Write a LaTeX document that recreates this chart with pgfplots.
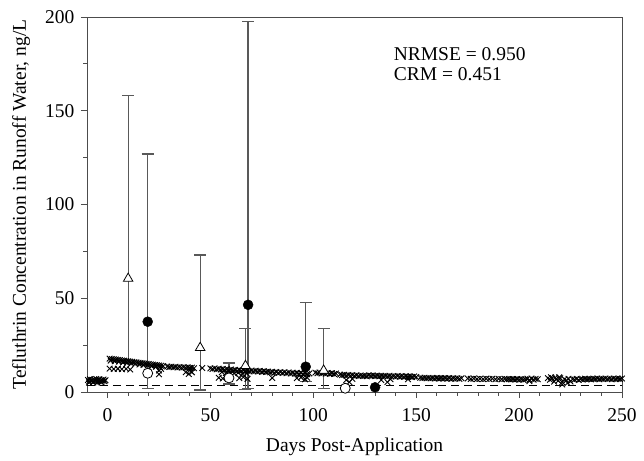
\documentclass[border=0pt]{standalone}
\usepackage{fontspec}
\setmainfont{Liberation Serif}
\usepackage{pgfplots}
\pgfplotsset{compat=1.18}
\usepackage{pgfplotstable}

% observed values: x, y, error plus, error minus
\pgfplotstableread{
x y ep em
10 60.5 97.5 45.0
45 23.6 49.4 22.6
67 14.0 20.0 12.5
105 11.5 22.5 9.5
}\triobs
\pgfplotstableread{
x y ep em
19.5 37.5 89.5 35.5
68.3 46.5 151.0 44.5
96.3 13.5 34.1 8.0
}\fillobs

\begin{document}
\begin{tikzpicture}[font=\fontsize{19.5bp}{22bp}\selectfont]
\begin{axis}[
  scale only axis,
  width=535bp, height=375bp,
  xmin=-10, xmax=250, ymin=0, ymax=200,
  xtick={0,50,...,250}, minor x tick num=4,
  ytick={0,50,...,200}, minor y tick num=1,
  xtick pos=bottom, ytick pos=left,
  tick align=outside,
  major tick length=6bp, minor tick length=3.5bp,
  axis line style={black!70, line width=0.9bp},
  every tick/.style={black!70, line width=0.9bp},
  /pgf/number format/assume math mode=true,
  xlabel={Days Post-Application},
  ylabel={Tefluthrin Concentration in Runoff Water, ng/L},
  xlabel style={at={(axis description cs:0.5,-0.145)}, anchor=center},
  ylabel style={at={(axis description cs:-0.123,0.5)}, anchor=center},
  xticklabel style={yshift=-7bp},
  yticklabel style={xshift=-3bp},
  clip=false,
  error bars/error bar style={black!65, line width=1.3bp},
  error bars/error mark options={rotate=90, mark size=6bp, line width=1.3bp, black!65},
]
% detection limit
\addplot[black, line width=0.9bp, dash pattern=on 8bp off 5bp] coordinates {(-10,3.7) (250,3.7)};

% simulated
\addplot[only marks, mark=x, mark size=4bp, mark options={line width=0.9bp}, black] coordinates {
(-9.5,6.4) (-9,5.6) (-8.5,6.8) (-8,5.9) (-7.5,6.5) (-7,5.4) (-6.5,6.7) (-6,6.0) (-5.5,6.9) (-5,5.7)
(-4.5,6.3) (-4,6.8) (-3.5,5.6) (-3,6.4) (-2.5,6.0) (-2,6.7) (-1.5,5.8) (-1,6.3) (-9,5.0) (-7,5.1) (-5,5.0) (-3,5.2)
(1,17.8) (2,17.6) (3,17.4) (4,17.3) (5,17.1) (6,17.0) (7,16.8) (8,16.7) (9,16.5) (10,16.4)
(11,16.2) (12,16.1) (13,15.9) (14,15.8) (15,15.6) (16,15.5) (17,15.3) (18,15.2) (19,15.0) (20,14.9)
(21,14.7) (22,14.6) (23,14.4) (24,14.3) (25,14.1) (26,14.0) (27,13.8)
(1.5,16.7) (3.5,16.4) (5.5,16.2) (7.5,15.8) (9.5,15.6) (11.5,15.2) (13.5,15.0) (15.5,14.7)
(17.5,14.4) (19.5,14.2) (21.5,13.8) (23.5,13.5) (25.5,13.2)
(1,12.5) (3,12.3) (5,12.4) (7,12.2) (9,12.3) (11,12.0) (25,11.5) (25,9.5) (26,12.3)
(29,13.6) (30,13.3) (31,13.5) (32,13.2) (33,13.4) (34,13.1) (35,13.3) (36,13.0) (37,13.2) (38,12.9)
(39,13.1) (40,12.8) (41,13.0) (42,12.7) (38,10.5) (39.5,9.6) (41,10.5) (40,11.5)
(46,12.8)
(50,12.6) (51,12.3) (52,12.6) (53,12.1) (54,12.4) (55,12.0) (56,12.3) (57,11.8) (58,12.1) (59,11.6)
(60,12.0) (61,11.5) (62,11.8) (63,11.3) (64,11.7) (65,11.2) (66,11.6) (67,11.1) (68,11.4) (69,11.0)
(70,11.4) (71,11.0) (72,11.3) (73,10.9) (74,11.2) (75,10.8) (76,11.1) (77,10.7)
(55.5,10.6) (57.5,10.1) (59.5,10.4) (61.5,9.9) (63.5,10.3) (65.5,9.7) (67.5,10.0)
(54,7.6) (56,7.2) (58,7.8) (64,7.4) (66,7.9) (68,7.0)
(78,10.9) (79,10.5) (80,10.8) (81,10.3) (82,10.7) (83,10.2) (84,10.6) (85,10.1) (86,10.5) (87,10.0)
(88,10.4) (89,9.9) (90,10.3) (91,9.8) (92,10.2) (93,9.7) (94,10.1) (95,9.6) (96,10.0) (97,9.5) (98,9.9)
(80,7.5) (92,7.4) (94,7.8) (96,6.8) (97,7.6)
(101,10.3) (102,10.0) (103,10.4) (104,9.9) (105,10.2) (106,9.8) (107,10.1) (108,9.7) (109,10.0) (110,9.6) (111,9.9)
(113,9.3) (114,9.0) (115,9.2) (116,8.8) (117,9.1) (118,8.7) (119,9.0) (120,8.6) (121,8.9) (122,8.5)
(123,8.8) (124,8.5) (125,8.7) (126,8.4) (116,6.4) (117.5,5.3) (119,7.0)
(127,8.9) (128,8.6) (129,8.8) (130,8.5) (131,8.7) (132,8.4) (133,8.7) (134,8.4) (135,8.6) (136,8.3)
(137,8.6) (138,8.3) (139,8.5) (140,8.2) (141,8.5) (142,8.2) (143,8.4) (144,8.1) (145,8.4) (146,8.1)
(147,8.3) (148,8.0) (149,8.3) (150,8.0) (133,6.4) (136,5.3) (137.5,6.8) (146,6.8)
(152,7.6) (153,7.4) (154,7.6) (155,7.3) (156,7.5) (157,7.3) (158,7.5) (159,7.2) (160,7.5) (161,7.2)
(162,7.4) (163,7.2) (164,7.4) (165,7.1) (166,7.4) (167,7.1) (168,7.3) (169,7.1) (170,7.3) (171,7.0) (172,7.3)
(175,7.2) (176.5,7.0) (178,7.2) (179.5,6.9) (181,7.1) (182.5,6.9) (184,7.1) (185.5,6.9) (187,7.1)
(188.5,6.8) (190,7.0) (191.5,6.8) (193,7.0) (194,6.8) (195,6.9) (196,6.7) (197,6.9) (198,6.7)
(199,6.9) (200,6.6) (201,6.8) (202,6.6) (203,6.8) (204,7.1) (205,6.4) (206,7.2) (207,6.6) (208,7.0) (209,6.8) (205,5.8)
(214,7.4) (215,6.5) (216,7.2) (217,5.5) (218,7.0) (219,6.0) (220,7.3) (221,5.2) (222,6.8) (223,6.2)
(224,7.1) (225,5.6) (226,6.9) (227,6.6) (228,7.0) (229,6.4) (230,6.9) (231,6.7) (232,7.1) (233,6.8)
(234,7.0) (235,6.7) (236,7.1) (237,6.9) (238,7.2) (239,6.8) (240,7.1) (241,6.9) (242,7.2) (243,6.9)
(244,7.1) (245,6.8) (246,7.2) (247,6.9) (248,7.1) (249,6.9) (250,7.2)
(215.5,7.9) (217.5,7.7) (219.5,7.8) (221,4.0) (223.5,4.8)
};

% observed, triangles
\addplot[only marks, mark=triangle*, mark size=5.5bp, mark options={fill=white, draw=black, line width=0.8bp},
  error bars/.cd, y dir=both, y explicit]
  table[x=x, y=y, y error plus=ep, y error minus=em] {\triobs};
% observed, filled circles
\addplot[only marks, mark=*, mark size=5bp, mark options={fill=black, draw=black},
  error bars/.cd, y dir=both, y explicit]
  table[x=x, y=y, y error plus=ep, y error minus=em] {\fillobs};
\addplot[only marks, mark=*, mark size=5bp, mark options={fill=black, draw=black}] coordinates {(130,2.5)};
% observed, open circles
\addplot[only marks, mark=*, mark size=5bp, mark options={fill=white, draw=black, line width=0.8bp},
  error bars/.cd, y dir=both, y explicit]
  coordinates {(59,7.5) +- (0,8.0) -= (0,3.2)};
\addplot[only marks, mark=*, mark size=5bp, mark options={fill=white, draw=black, line width=0.8bp}]
  coordinates {(19.5,10) (115.5,2)};

\node[anchor=north west, align=left, inner sep=0pt] at (axis cs:139,184)
  {NRMSE = 0.950\\[-2bp]CRM = 0.451};
\end{axis}
\path (current axis.south west) ++(-87bp,-69bp) rectangle ++(644bp,461bp);
\end{tikzpicture}
\end{document}
